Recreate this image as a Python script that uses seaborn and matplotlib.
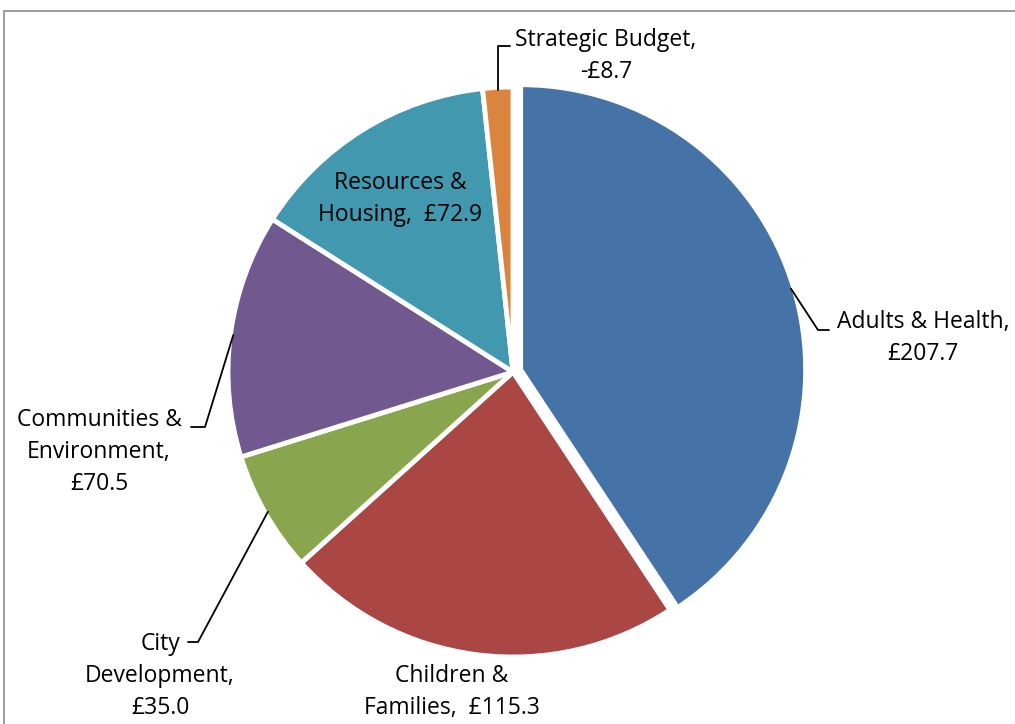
import numpy as np
import matplotlib
matplotlib.use("Agg")
import matplotlib.pyplot as plt
import seaborn as sns

# ---- data ----
categories = ["Adults & Health", "Children & Families", "City Development",
              "Communities & Environment", "Resources & Housing", "Strategic Budget"]
values = [207.7, 115.3, 35.0, 70.5, 72.9, -8.7]
colors = ["#4572A7", "#AA4643", "#89A54E", "#71588F", "#4198AF", "#DB843D"]

# label text (line layout only)
label_texts = [
    "Adults & Health,\n£207.7",
    "Children &\nFamilies,  £115.3",
    "City\nDevelopment,\n£35.0",
    "Communities &\nEnvironment,\n£70.5",
    "Resources &\nHousing,  £72.9",
    "Strategic Budget,\n-£8.7",
]

sns.set_theme(style="white")
plt.rcParams['font.family'] = ['Open Sans', 'DejaVu Sans']

W, H = 1015, 724
fig = plt.figure(figsize=(W / 100, H / 100), dpi=100)
ax = fig.add_axes([0, 0, 1, 1])
R = 285.0
cx, cy = 513.0, 372.0

def px(x, y):
    return ((x - cx) / R, (cy - y) / R)

sizes = [abs(v) for v in values]
explode = [0.028, 0, 0, 0, 0, 0]
wedges, _ = ax.pie(sizes, colors=colors, startangle=90, counterclock=False,
                   explode=explode, radius=1.0, center=(0, 0),
                   wedgeprops=dict(edgecolor="white", linewidth=3.5),
                   frame=False)
ax.set_xlim((0 - cx) / R, (W - cx) / R)
ax.set_ylim((cy - H) / R, (cy - 0) / R)
ax.set_aspect("auto")
ax.axis("off")

def edge_point(w, r=1.0):
    ang = np.deg2rad((w.theta1 + w.theta2) / 2)
    c = w.center
    return (c[0] + r * np.cos(ang), c[1] + r * np.sin(ang))

fs = 16.5
ls = 1.45
tkw = dict(ha="center", va="center", fontsize=fs, linespacing=ls, color="black")
lkw = dict(color="black", lw=1.3)

# Adults & Health
p0 = edge_point(wedges[0], 0.99)
e1 = px(818, 330); e2 = px(829, 330)
ax.plot([p0[0], e1[0], e2[0]], [p0[1], e1[1], e2[1]], **lkw)
ax.text(*px(923, 338), label_texts[0], **tkw)

# Children & Families
ax.text(*px(452, 692), label_texts[1], **tkw)

# City Development
p2 = edge_point(wedges[2], 0.99)
e1 = px(198, 642); e2 = px(188, 642)
ax.plot([p2[0], e1[0], e2[0]], [p2[1], e1[1], e2[1]], **lkw)
ax.text(*px(160, 676), label_texts[2], **tkw)

# Communities & Environment
p3 = edge_point(wedges[3], 0.99)
e1 = px(205, 427); e2 = px(191, 427)
ax.plot([p3[0], e1[0], e2[0]], [p3[1], e1[1], e2[1]], **lkw)
ax.text(*px(99, 452), label_texts[3], **tkw)

# Resources & Housing
ax.text(*px(400, 199), label_texts[4], **tkw)

# Strategic Budget
p5 = edge_point(wedges[5], 0.99)
e1 = (p5[0], px(0, 46)[1]); e2 = (px(510, 46)[0], px(0, 46)[1])
ax.plot([p5[0], e1[0], e2[0]], [p5[1], e1[1], e2[1]], **lkw)
ax.text(*px(606, 56), label_texts[5], **tkw)

# chart border
border = plt.Rectangle((4 / W, -0.5), 2.0, 0.5 + (H - 11) / H, transform=fig.transFigure,
                       fill=False, edgecolor="#8c8c8c", linewidth=1.2)
fig.add_artist(border)

fig.savefig("out.png", dpi=100, facecolor="white")
